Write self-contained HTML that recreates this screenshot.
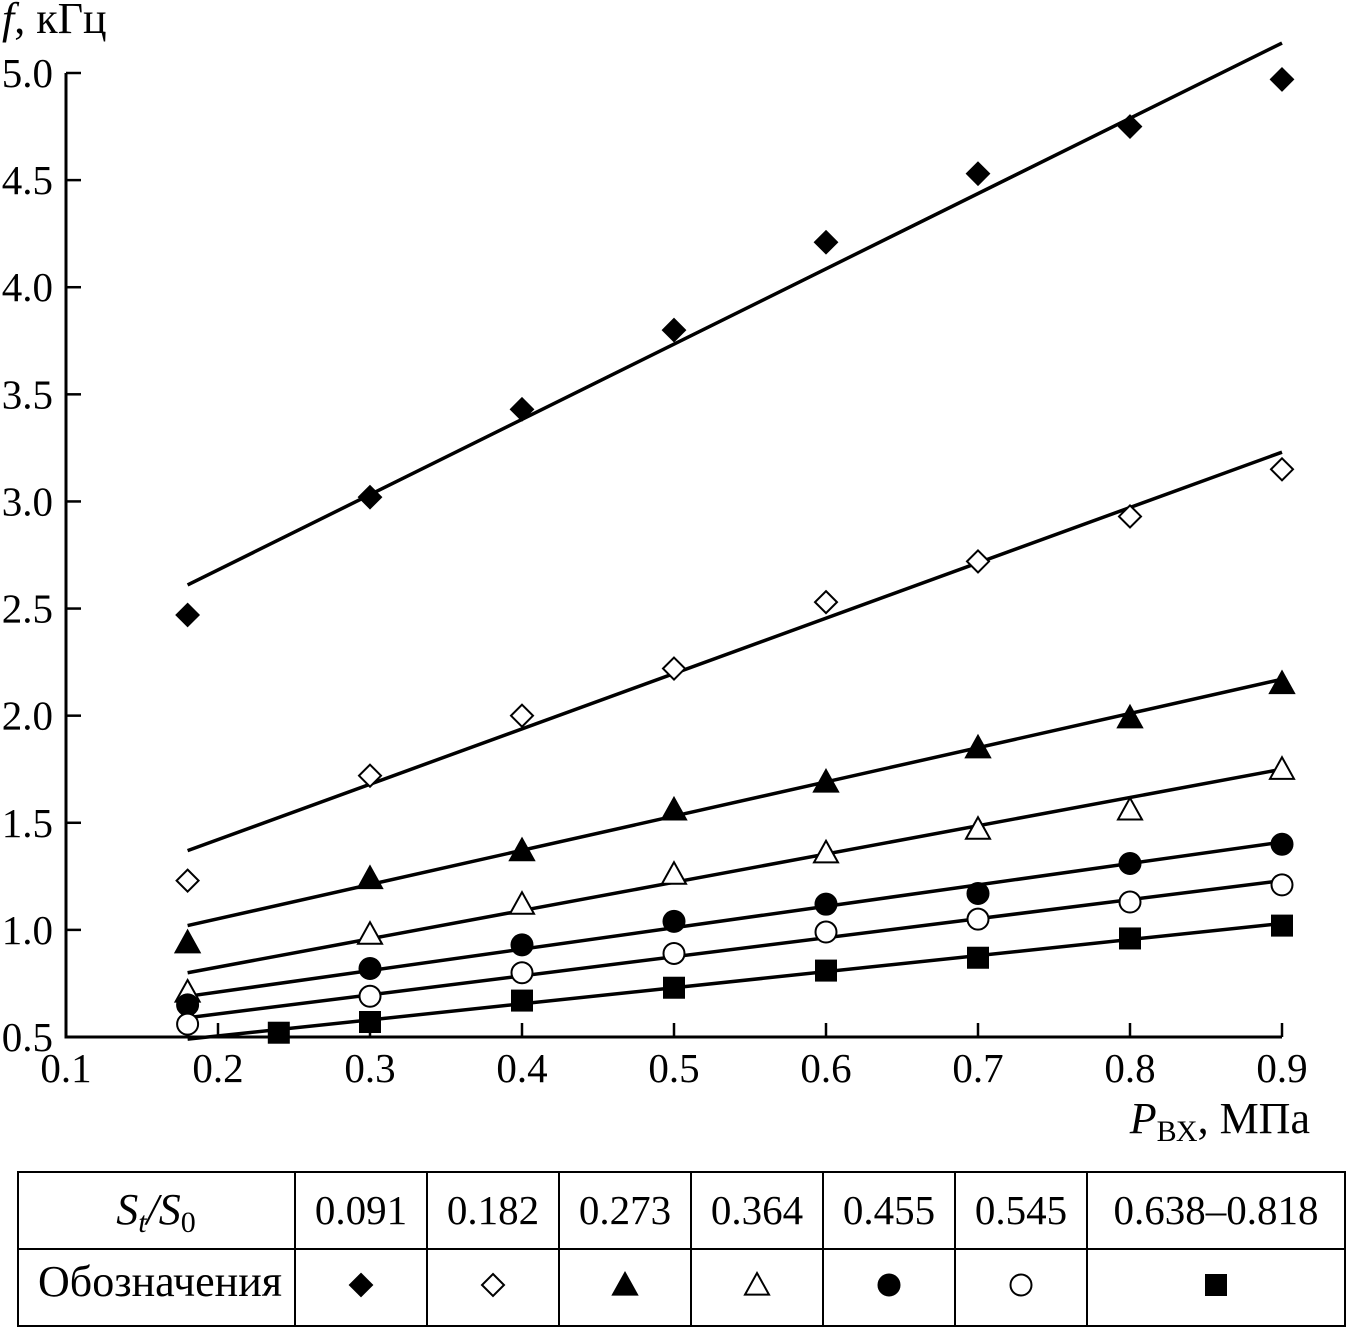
<!DOCTYPE html>
<html><head><meta charset="utf-8"><style>
body{margin:0;background:#fff;}
svg{display:block;font-family:"Liberation Serif","DejaVu Serif",serif;}
</style></head><body>
<svg id="c" width="1353" height="1327" viewBox="0 0 1353 1327"></svg>
<script>
const xTicks=[0.1,0.2,0.3,0.4,0.5,0.6,0.7,0.8,0.9];
const yTicks=[0.5,1.0,1.5,2.0,2.5,3.0,3.5,4.0,4.5,5.0];
const xs=[0.18,0.3,0.4,0.5,0.6,0.7,0.8,0.9];
const xsSq=[0.24,0.3,0.4,0.5,0.6,0.7,0.8,0.9];
const sFD=[2.47,3.02,3.43,3.80,4.21,4.53,4.75,4.97];
const sOD=[1.23,1.72,2.0,2.22,2.53,2.72,2.93,3.15];
const sFT=[0.94,1.24,1.37,1.56,1.69,1.85,1.99,2.15];
const sOT=[0.71,0.98,1.12,1.26,1.36,1.47,1.56,1.75];
const sFC=[0.65,0.82,0.93,1.04,1.12,1.17,1.31,1.40];
const sOC=[0.56,0.69,0.80,0.89,0.99,1.05,1.13,1.21];
const sFS=[0.52,0.57,0.67,0.73,0.81,0.87,0.96,1.02];
const fitStart=[2.61,1.37,1.02,0.80,0.69,0.59,0.49];
const fitEnd=[5.14,3.23,2.17,1.75,1.41,1.23,1.03];
const ratios=["0.091","0.182","0.273","0.364","0.455","0.545","0.638–0.818"];
const NS="http://www.w3.org/2000/svg";
const svg=document.getElementById('c');
const X=v=>66+(v-0.1)/0.8*1216;
const Y=v=>1037-(v-0.5)/4.5*964;
function mk(t,a,p){const e=document.createElementNS(NS,t);for(const k in a)e.setAttribute(k,a[k]);(p||svg).appendChild(e);return e;}
let ax=mk('path',{d:`M66 ${Y(5)} V1037 H1282`,fill:'none',stroke:'#000','stroke-width':3});


xTicks.forEach(v=>{
 if(v>0.1){let t=mk('line',{x1:X(v),x2:X(v),y1:1037,y2:1023,stroke:'#000','stroke-width':2.5});
 
 }
 let l=mk('text',{x:X(v),y:1082,'text-anchor':'middle','font-size':41});l.textContent=v.toFixed(1);
 
 
});
yTicks.forEach(v=>{
 if(v>0.5){let t=mk('line',{x1:66,x2:81,y1:Y(v),y2:Y(v),stroke:'#000','stroke-width':2.5});
 
 }
 let l=mk('text',{x:53,y:Y(v)+14,'text-anchor':'end','font-size':41});l.textContent=v.toFixed(1);
 
 
});
let yt=mk('text',{x:2,y:33,'font-size':44});yt.innerHTML='<tspan font-style="italic">f</tspan>, кГц';


let xt=mk('text',{x:1310,y:1133,'text-anchor':'end','font-size':44});xt.innerHTML='<tspan font-style="italic">P</tspan><tspan font-size="30" dy="8">ВХ</tspan><tspan dy="-8">, МПа</tspan>';


fitStart.forEach((s,i)=>{let l=mk('line',{x1:X(0.18),y1:Y(s),x2:X(0.9),y2:Y(fitEnd[i]),stroke:'#000','stroke-width':3.5});
 
 });
function marker(type,cx,cy,sc,p){
 sc=sc||1;let e;const f=type.startsWith('f')?'#000':'#fff';const sw=2;
 if(type.endsWith('D')){const r=11*sc;e=mk('polygon',{points:`${cx},${cy-r} ${cx+r},${cy} ${cx},${cy+r} ${cx-r},${cy}`,fill:f,stroke:'#000','stroke-width':sw},p);}
 else if(type.endsWith('T')){const r=12*sc;e=mk('polygon',{points:`${cx},${cy-r} ${cx+r},${cy+r*0.8} ${cx-r},${cy+r*0.8}`,fill:f,stroke:'#000','stroke-width':sw},p);}
 else if(type.endsWith('C')){e=mk('circle',{cx:cx,cy:cy,r:10.5*sc,fill:f,stroke:'#000','stroke-width':sw},p);}
 else {const r=11*sc;e=mk('rect',{x:cx-r,y:cy-r,width:2*r,height:2*r,fill:f},p);}
 return e;
}
const series=[['fD',xs,sFD],['oD',xs,sOD],['fT',xs,sFT],['oT',xs,sOT],['fC',xs,sFC],['oC',xs,sOC],['fS',xsSq,sFS]];
series.forEach(([t,xa,ya])=>{ya.forEach((v,i)=>{let m=marker(t,X(xa[i]),Y(v));
 
 });});
const cols=[18,295,427,559,691,823,955,1087,1345];const t0=1172,t1=1249,t2=1326;
let g=mk('g',{});
mk('rect',{x:18,y:t0,width:1327,height:t2-t0,fill:'none',stroke:'#000','stroke-width':2},g);
mk('line',{x1:18,x2:1345,y1:t1,y2:t1,stroke:'#000','stroke-width':2},g);
cols.slice(1,-1).forEach(c=>mk('line',{x1:c,x2:c,y1:t0,y2:t2,stroke:'#000','stroke-width':2},g));
let h=mk('text',{x:156,y:1224,'text-anchor':'middle','font-size':44},g);h.innerHTML='<tspan font-style="italic">S</tspan><tspan font-style="italic" font-size="30" dy="8">t</tspan><tspan dy="-8" font-style="italic">/S</tspan><tspan font-size="30" dy="8">0</tspan>';

let o=mk('text',{x:160,y:1296,'text-anchor':'middle','font-size':44,textLength:244},g);o.textContent='Обозначения';

ratios.forEach((r,i)=>{const cx=(cols[i+1]+cols[i+2])/2;
 let tx=mk('text',{x:cx,y:1224,'text-anchor':'middle','font-size':41},g);tx.textContent=r;
 
 let m=marker(series[i][0],cx,1285,1,g);
 });
</script>
</body></html>
